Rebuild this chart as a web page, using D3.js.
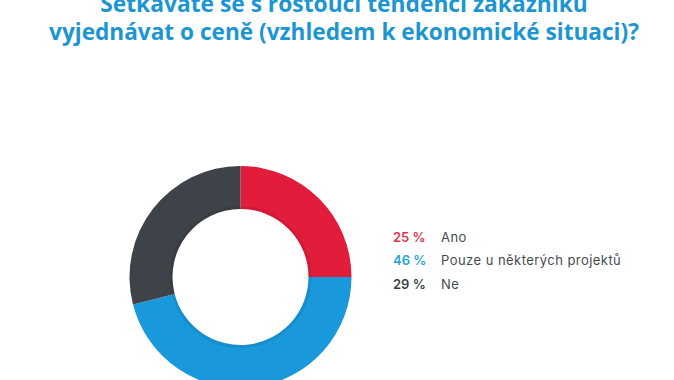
<!DOCTYPE html>
<html><head><meta charset="utf-8">
<script src="https://cdn.jsdelivr.net/npm/d3@7/dist/d3.min.js"></script>
<style>body{margin:0;background:#fff}svg{display:block}</style>
</head><body><svg id="c" width="674" height="380"></svg>
<script>
const titleLines = ["Setkáváte se s rostoucí tendencí zákazníků", "vyjednávat o ceně (vzhledem k ekonomické situaci)?"];
const categories = ["Ano", "Pouze u některých projektů", "Ne"];
const values = [25, 46, 29];
const sliceColors = ["#e21d3c", "#1999db", "#3e4349"];
const labelColors = ["#d9334f", "#26a3d8", "#3a3f44"];

const svg = d3.select("#c");
const titleFont = "'Open Sans', sans-serif";
const tg = svg.append("g");
const targets = [{y: 12, w: 488}, {y: 40, w: 590}];
titleLines.forEach((t, i) => {
  const el = tg.append("text").attr("x", 344).attr("y", targets[i].y)
    .attr("text-anchor", "middle").attr("font-family", titleFont)
    .attr("font-weight", 700).attr("font-size", 20).attr("fill", "#1c96d2").text(t);
  const w = el.node().getComputedTextLength();
  el.attr("font-size", 20 * targets[i].w / w);
});

const cx = 240.5, cy = 277, rO = 111, rI = 68;
const pie = d3.pie().sort(null).value(d => d)(values);
const arc = d3.arc().innerRadius(rI).outerRadius(rO);
const color = d3.scaleOrdinal().domain(categories).range(sliceColors);
const g = svg.append("g").attr("transform", `translate(${cx},${cy})`);
g.selectAll("path").data(pie).join("path")
  .attr("d", arc).attr("fill", (d, i) => color(categories[i]));
g.append("circle").attr("r", rI + 1.5).attr("fill", "none")
  .attr("stroke", "rgba(0,0,0,0.08)").attr("stroke-width", 3);

const y = d3.scalePoint().domain(categories).range([237, 284]);
const lg = svg.append("g").attr("font-family", "'Inter', sans-serif").attr("font-size", 13);
categories.forEach((c, i) => {
  lg.append("text").attr("x", 393).attr("y", y(c)).attr("dy", "0.35em")
    .attr("font-weight", 600).attr("fill", labelColors[i]).text(values[i] + " %");
  lg.append("text").attr("x", 441).attr("y", y(c)).attr("dy", "0.35em")
    .attr("letter-spacing", 0.45).attr("fill", "#464b51").text(c);
});
</script></body></html>
